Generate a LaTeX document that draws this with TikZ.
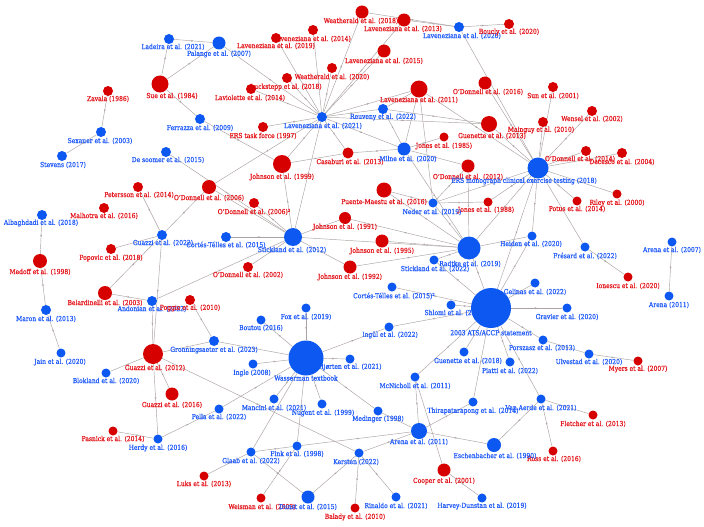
\documentclass[tikz,border=0pt]{standalone}
\usepackage{fontspec}
\setmainfont{DejaVu Serif}[FakeStretch=0.87,FakeBold=0.6]
\usetikzlibrary{decorations.markings,arrows.meta}
\definecolor{rd}{RGB}{214,0,0}
\definecolor{bl}{RGB}{12,88,240}
\definecolor{rdtxt}{RGB}{228,24,30}
\definecolor{bltxt}{RGB}{34,92,250}
\definecolor{edgec}{RGB}{172,162,162}
\pgfdeclarelayer{edges}
\pgfdeclarelayer{labels}
\pgfsetlayers{edges,labels,main}
\tikzset{
  gnode/.style={circle,inner sep=0pt,draw=none},
  glab/.style={inner sep=0pt,font=\fontsize{6.9}{7.5}\selectfont},
  edge/.style={draw=edgec,line width=0.45pt,postaction={decorate},
    decoration={markings,mark=at position 0.5 with {\arrow{Stealth[length=2.2pt,width=1.8pt]}}}}
}
\newcommand\gn[8]{%
  \node[gnode,fill=#5,minimum size=#4*2pt] (#1) at (#2,#3) {};
  \begin{pgfonlayer}{labels}\node[glab,text=#5txt] (#1l) at (#6,#7) {#8};\end{pgfonlayer}}
\begin{document}
\begin{tikzpicture}[x=1pt,y=-1pt]
\begin{pgfonlayer}{edges}
\fill[white] (0,0) rectangle (704,527);
\end{pgfonlayer}
\useasboundingbox (0,0) rectangle (704,527);
% nodes
\gn{lad}{169}{39}{5}{bl}{173}{47}{Ladeira et al. (2021)}
\gn{pal}{219}{43}{6.5}{bl}{219}{54}{Palange et al. (2007)}
\gn{sue}{160}{84}{8.5}{rd}{172}{96}{Sue et al. (1984)}
\gn{zav}{108}{91}{5}{rd}{108}{99}{Zavala (1986)}
\gn{sex}{101}{132}{5}{bl}{100}{141}{Sexauer et al. (2003)}
\gn{ste}{62}{156}{5}{bl}{63}{165}{Stevens (2017)}
\gn{des}{166}{152}{5}{bl}{168}{160}{De soomer et al. (2015)}
\gn{fer}{200}{119}{5}{bl}{200}{128}{Ferrazza et al. (2009)}
\gn{lav19}{276}{38}{5}{rd}{276}{46}{Laveneziana et al. (2019)}
\gn{lav14}{313}{30}{5}{rd}{312}{39}{Laveneziana et al. (2014)}
\gn{wea18}{362}{12}{6.5}{rd}{361}{21}{Weatherald et al. (2018)}
\gn{lav13}{404}{20}{6.5}{rd}{403}{29}{Laveneziana et al. (2013)}
\gn{lav20}{459}{27}{5}{bl}{462}{36}{Laveneziana et al. (2020)}
\gn{bou}{509}{24}{5}{rd}{509}{32}{Boucly et al. (2020)}
\gn{lav15}{384}{51}{6.5}{rd}{384}{61}{Laveneziana et al. (2015)}
\gn{wea20}{332}{68}{5}{rd}{332}{77}{Weatherald et al. (2020)}
\gn{luc}{287}{78}{5}{rd}{286}{87}{Luckstepp et al. (2018)}
\gn{lvi}{251}{89}{5}{rd}{250}{98}{Laviolette et al. (2014)}
\gn{lav21}{322}{117}{5}{bl}{323}{126}{Laveneziana et al. (2021)}
\gn{ers97}{263}{127}{5}{rd}{263}{136}{ERS task force (1997)}
\gn{joh99}{282}{164}{9}{rd}{282}{177}{Johnson et al. (1999)}
\gn{cas}{348}{153}{5.5}{rd}{350}{162}{Casaburi et al. (2013)}
\gn{lav11}{419}{89}{8.5}{rd}{419}{100}{Laveneziana et al. (2011)}
\gn{odo16}{485}{83}{6.5}{rd}{488}{92}{O'Donnell et al. (2016)}
\gn{reu}{383}{109}{5}{bl}{383}{117}{Reuveny et al. (2022)}
\gn{gue13}{489}{124}{8}{rd}{492}{136}{Guenette et al. (2013)}
\gn{mai}{543}{122}{5}{rd}{541}{130}{Mainguy et al. (2010)}
\gn{jon85}{444}{137}{4.5}{rd}{444}{146}{Jones et al. (1985)}
\gn{mil}{404}{149}{6.5}{bl}{408}{159}{Milne et al. (2020)}
\gn{odo12}{468}{166}{6.5}{rd}{468}{177}{O'Donnell et al. (2012)}
\gn{sun}{553}{87}{5}{rd}{553}{96}{Sun et al. (2001)}
\gn{wen}{592}{111}{5}{rd}{592}{119}{Wensel et al. (2002)}
\gn{odo14}{586}{151}{5}{rd}{580}{159}{O'Donnell et al. (2014)}
\gn{dec}{622}{153}{5}{rd}{622}{162}{Decesco et al. (2004)}
\gn{ersm}{538}{168}{10.5}{bl}{524}{181}{ERS monograph clinical exercise testing (2018)}
\gn{pet}{138}{187}{5}{rd}{139}{195}{Petersson et al. (2014)}
\gn{mal}{104}{208}{5}{rd}{104}{216}{Malhotra et al. (2016)}
\gn{alb}{42}{215}{5}{bl}{41}{223}{Albaghdadi et al. (2018)}
\gn{gua22}{162}{235}{5}{bl}{163}{243}{Guazzi et al. (2022)}
\gn{pop}{111}{249}{5}{rd}{111}{258}{Popovic et al. (2018)}
\gn{med}{40}{261}{7}{rd}{40}{272}{Medoff et al. (1998)}
\gn{bel}{105}{293}{7}{rd}{105}{303}{Belardinelli et al. (2003)}
\gn{ando}{152}{301}{5}{bl}{152}{309}{Andonian et al. (2022)}
\gn{pog}{190}{300}{5}{rd}{190}{308}{Poggio et al. (2010)}
\gn{mar}{46}{310}{5}{bl}{46}{319}{Maron et al. (2013)}
\gn{gua12}{153}{354}{10}{rd}{155}{368}{Guazzi et al. (2012)}
\gn{gro}{214}{341}{5}{bl}{214}{350}{Gronningsaeter et al. (2023)}
\gn{odo06}{209}{187}{7}{rd}{209}{198}{O'Donnell et al. (2006)}
\gn{odo06b}{254}{203}{5}{rd}{254}{212}{O'Donnell et al. (2006)²}
\gn{sti12}{293}{237}{9}{bl}{292}{250}{Stickland et al. (2012)}
\gn{cor15}{226}{237}{5}{bl}{226}{245}{Cortés-Télles et al. (2015)}
\gn{odo02}{248}{267}{5}{rd}{248}{275}{O'Donnell et al. (2002)}
\gn{joh91}{345}{218}{6}{rd}{345}{227}{Johnson et al. (1991)}
\gn{joh92}{350}{267}{6.5}{rd}{350}{277}{Johnson et al. (1992)}
\gn{pue}{384}{190}{7.5}{rd}{384}{202}{Puente-Maestu et al. (2016)}
\gn{joh95}{382}{241}{6.5}{rd}{382}{251}{Johnson et al. (1995)}
\gn{ned}{433}{203}{4.5}{bl}{432}{212}{Neder et al. (2019)}
\gn{jon88}{488}{202}{4.5}{rd}{486}{210}{Jones et al. (1988)}
\gn{rad}{469}{248}{11.5}{bl}{470}{264}{Radtke et al. (2019)}
\gn{sti22}{434}{260}{4.5}{bl}{435}{269}{Stickland et al. (2022)}
\gn{cor15b}{392}{287}{4.5}{bl}{394}{296}{Cortés-Télles et al. (2015)²}
\gn{shl}{451}{305}{4.5}{bl}{455}{313}{Shlomi et al. (2021)}
\gn{ats}{491}{308}{20}{bl}{491}{333}{2003 ATS/ACCP statement}
\gn{ing}{389}{327}{4.5}{bl}{390}{335}{Ingül et al. (2022)}
\gn{hei}{532}{236}{4.5}{bl}{531}{244}{Heiden et al. (2020)}
\gn{gel}{535}{283}{4.5}{bl}{535}{292}{Gelinas et al. (2022)}
\gn{fre}{585}{247}{4.5}{bl}{585}{256}{Frésard et al. (2022)}
\gn{ril}{617}{194}{4.5}{rd}{617}{203}{Riley et al. (2000)}
\gn{pot}{577}{201}{4.5}{rd}{577}{209}{Potus et al. (2014)}
\gn{ion}{628}{277}{4.5}{rd}{628}{286}{Ionescu et al. (2020)}
\gn{are07}{672}{242}{4.5}{bl}{672}{250}{Arena et al. (2007)}
\gn{areb}{669}{296}{4.5}{bl}{669}{305}{Arena (2011)}
\gn{gra}{567}{308}{4.5}{bl}{567}{317}{Gravier et al. (2020)}
\gn{por}{543}{340}{4.5}{bl}{542}{348}{Porszasz et al. (2013)}
\gn{ulv}{589}{354}{4.5}{bl}{589}{362}{Ulvestad et al. (2020)}
\gn{mye}{638}{361}{4.5}{rd}{638}{369}{Myers et al. (2007)}
\gn{van}{541}{399}{4.5}{bl}{541}{408}{Van Aerde et al. (2021)}
\gn{fle}{593}{415}{4.5}{rd}{593}{424}{Fletcher et al. (2013)}
\gn{ros}{553}{451}{4.5}{rd}{554}{459}{Ross et al. (2016)}
\gn{esc}{494}{445}{7}{bl}{495}{456}{Eschenbacher et al. (1990)}
\gn{pia}{510}{362}{4.5}{bl}{510}{371}{Piatti et al. (2022)}
\gn{gue18}{464}{352}{4.5}{bl}{468}{361}{Guenette et al. (2018)}
\gn{hjo}{350}{359}{4.5}{bl}{350}{367}{Hjørten et al. (2021)}
\gn{mcn}{415}{377}{4.5}{bl}{415}{386}{McNicholl et al. (2011)}
\gn{thi}{473}{402}{4.5}{bl}{473}{411}{Thirapatarapong et al. (2014)}
\gn{mdg}{378}{411}{4.5}{bl}{378}{419}{Medinger (1998)}
\gn{are11}{419}{431}{8}{bl}{419}{442}{Arena et al. (2011)}
\gn{ker}{359}{453}{4.5}{bl}{356}{462}{Kersten (2022)}
\gn{coo}{444}{470}{6.5}{rd}{444}{481}{Cooper et al. (2001)}
\gn{rin}{396}{497}{4.5}{bl}{396}{506}{Rinaldo et al. (2021)}
\gn{har}{482}{498}{4.5}{bl}{482}{506}{Harvey-Dunstan et al. (2019)}
\gn{bal}{355}{508}{4.5}{rd}{355}{517}{Balady et al. (2010)}
\gn{was}{306}{358}{17.5}{bl}{306}{378}{Wasserman textbook}
\gn{ingle}{253}{364}{4.5}{bl}{252}{373}{Ingle (2008)}
\gn{bout}{261}{320}{4.5}{bl}{261}{328}{Boutou (2016)}
\gn{fox}{306}{308}{4.5}{bl}{306}{317}{Fox et al. (2019)}
\gn{man}{274}{399}{4.5}{bl}{274}{408}{Mancini et al. (2021)}
\gn{nug}{322}{404}{4.5}{bl}{323}{413}{Nugent et al. (1999)}
\gn{pel}{219}{409}{4.5}{bl}{219}{417}{Pella et al. (2022)}
\gn{gua16}{172}{394}{6.5}{rd}{172}{405}{Guazzi et al. (2016)}
\gn{fin}{297}{446}{4.5}{bl}{297}{454}{Fink et al. (1998)}
\gn{gla}{251}{452}{4.5}{bl}{251}{461}{Glaab et al. (2022)}
\gn{luk}{204}{476}{4.5}{rd}{204}{484}{Luks et al. (2013)}
\gn{wei}{261}{498}{4.5}{rd}{262}{507}{Weisman et al. (2003)}
\gn{dun}{308}{497}{6.5}{bl}{308}{507}{Dunst et al. (2015)}
\gn{her}{158}{439}{4.5}{bl}{158}{448}{Herdy et al. (2016)}
\gn{pas}{113}{431}{4.5}{rd}{113}{439}{Pasnick et al. (2014)}
\gn{blo}{106}{373}{4.5}{bl}{106}{381}{Blokland et al. (2020)}
\gn{jai}{61}{353}{4.5}{bl}{60}{362}{Jain et al. (2020)}
% edges
\begin{pgfonlayer}{edges}
\foreach \a/\b in {lad/sue,lad/pal,sue/pal,zav/sex,sex/ste,sue/fer,fer/joh99,pal/lav21,des/sti12,
 lav21/lav19,lav21/lav14,lav21/wea18,lav21/lav13,lav21/lav15,lav21/wea20,lav21/luc,lav21/lvi,lav21/ers97,
 lav21/joh99,lav21/cas,lav21/lav11,lav21/reu,lav21/mil,lav21/odo06,lav21/gue13,lav21/sti12,joh99/cas,
 lav20/bou,lav20/wea18,lav20/lav13,lav20/ersm,lav11/mil,lav11/reu,lav11/ned,lav11/ersm,
 reu/mil,reu/gue13,mil/cas,mil/odo12,mil/jon85,mil/rad,
 ersm/sun,ersm/wen,ersm/mai,ersm/odo14,ersm/dec,ersm/ril,ersm/pot,ersm/fre,ersm/hei,ersm/gue13,ersm/odo16,
 ersm/rad,ersm/ned,ersm/jon88,ersm/ats,
 alb/med,med/mar,mar/jai,pet/gua22,pop/gua22,bel/gua22,gua22/gua12,gua22/odo06,bel/ando,ando/sti12,ando/gua12,
 pog/gro,gro/was,gro/gua12,gua12/blo,gua12/gua16,gua12/her,gua12/ker,her/pas,her/pel,pel/was,
 sti12/odo06b,sti12/cor15,sti12/odo02,sti12/joh99,sti12/joh91,sti12/joh92,sti12/rad,sti12/odo06,
 rad/joh91,rad/joh95,rad/joh92,rad/pue,rad/ned,rad/sti22,rad/hei,rad/ats,rad/odo12,ned/jon88,
 ned/pue,ned/odo12,
 ats/shl,ats/gel,ats/gra,ats/por,ats/pia,ats/gue18,ats/van,ats/cor15b,ats/thi,ats/hei,ats/mcn,ats/ing,ats/sti22,
 was/ingle,was/bout,was/fox,was/hjo,was/man,was/nug,was/gla,was/fin,was/ing,was/mdg,
 are11/mdg,are11/mcn,are11/thi,are11/esc,are11/ker,are11/fin,
 fin/gla,fin/wei,gla/luk,gla/dun,ker/dun,ker/bal,ker/rin,coo/har,coo/mcn,
 van/fle,van/ros,van/esc,ulv/por,ulv/mye,fre/ion,are07/areb}
 \draw[edge] (\a) -- (\b);
\end{pgfonlayer}
\end{tikzpicture}
\end{document}
